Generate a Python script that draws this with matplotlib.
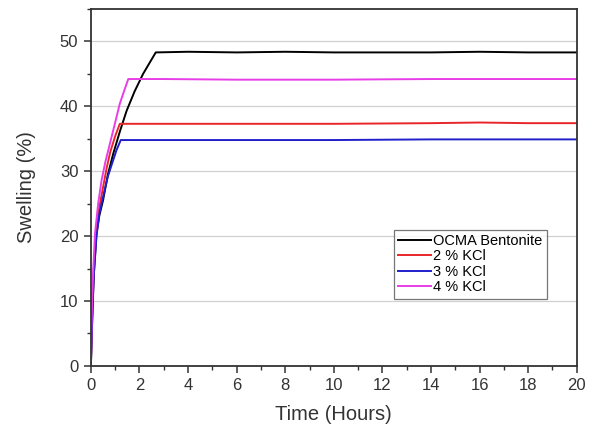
import matplotlib
matplotlib.use("Agg")
import matplotlib.pyplot as plt
from matplotlib.ticker import MultipleLocator

plt.rcParams['font.family'] = ['Liberation Sans', 'DejaVu Sans']

# Data
t_ocma = [0, 0.03, 0.07, 0.12, 0.23, 0.35, 0.5, 0.7, 0.92, 1.2, 1.47, 1.8, 2.15, 2.67, 4, 6, 8, 10, 12, 14, 16, 18, 20]
s_ocma = [0, 4, 9, 14, 20.4, 23.2, 25.5, 29.5, 32.7, 36.2, 39.3, 42.3, 45.0, 48.3, 48.4, 48.3, 48.4, 48.3, 48.3, 48.3, 48.4, 48.3, 48.3]

t_kcl2 = [0, 0.03, 0.07, 0.12, 0.22, 0.35, 0.5, 0.65, 0.8, 1.0, 1.19, 3, 6, 10, 14, 16, 18, 20]
s_kcl2 = [0, 5, 10, 15, 21, 24.5, 27.5, 30.5, 33, 35.4, 37.3, 37.3, 37.3, 37.3, 37.4, 37.5, 37.4, 37.4]

t_kcl3 = [0, 0.03, 0.07, 0.12, 0.23, 0.35, 0.5, 0.7, 0.9, 1.05, 1.23, 3, 6, 10, 14, 18, 20]
s_kcl3 = [0, 4, 9, 14, 20, 23.5, 26, 29.2, 31.5, 33.2, 34.8, 34.8, 34.8, 34.8, 34.9, 34.9, 34.9]

t_kcl4 = [0, 0.02, 0.05, 0.1, 0.17, 0.3, 0.44, 0.6, 0.78, 1.0, 1.19, 1.38, 1.54, 3, 6, 10, 14, 18, 20]
s_kcl4 = [0, 5, 10, 15, 20.4, 25, 28.6, 31.5, 34.2, 37.5, 40.4, 42.5, 44.2, 44.2, 44.1, 44.1, 44.2, 44.2, 44.2]

labels = ['OCMA Bentonite', '2 % KCl', '3 % KCl', '4 % KCl']
colors = ['#000000', '#e8262a', '#1f1fcc', '#e83ee8']

fig = plt.figure(figsize=(5.94, 4.25), dpi=100)
ax = fig.add_axes([0.153, 0.139, 0.818, 0.840])

series = [(t_ocma, s_ocma), (t_kcl2, s_kcl2), (t_kcl3, s_kcl3), (t_kcl4, s_kcl4)]
for (t, s), lab, c in zip(series, labels, colors):
    ax.plot(t, s, color=c, lw=1.4, label=lab)

ax.set_xlim(0, 20)
ax.set_ylim(0, 55)
ax.xaxis.set_major_locator(MultipleLocator(2))
ax.xaxis.set_minor_locator(MultipleLocator(1))
ax.yaxis.set_major_locator(MultipleLocator(10))
ax.yaxis.set_minor_locator(MultipleLocator(5))
ax.grid(True, which='major', axis='y', color='#d0d0d0', lw=0.9)
ax.set_axisbelow(True)

for sp in ax.spines.values():
    sp.set_color('#333333')
    sp.set_linewidth(1.3)
ax.tick_params(which='major', direction='out', length=5, width=1.1, color='#333333',
               labelsize=12, labelcolor='#333333', pad=4)
ax.tick_params(which='minor', direction='out', length=3, width=1.0, color='#333333')

ax.set_xlabel('Time (Hours)', fontsize=14.5, color='#333333', labelpad=8)
ax.set_ylabel('Swelling (%)', fontsize=14.5, color='#333333', labelpad=17)

leg = ax.legend(loc='upper left', bbox_to_anchor=(0.623, 0.382), borderaxespad=0,
                fontsize=10.5, frameon=True, fancybox=False, edgecolor='#555555',
                handlelength=2.25, borderpad=0.3, labelspacing=0.1, handletextpad=0.15)
leg.get_frame().set_linewidth(0.9)

fig.savefig('out.png', dpi=100, facecolor='white')
